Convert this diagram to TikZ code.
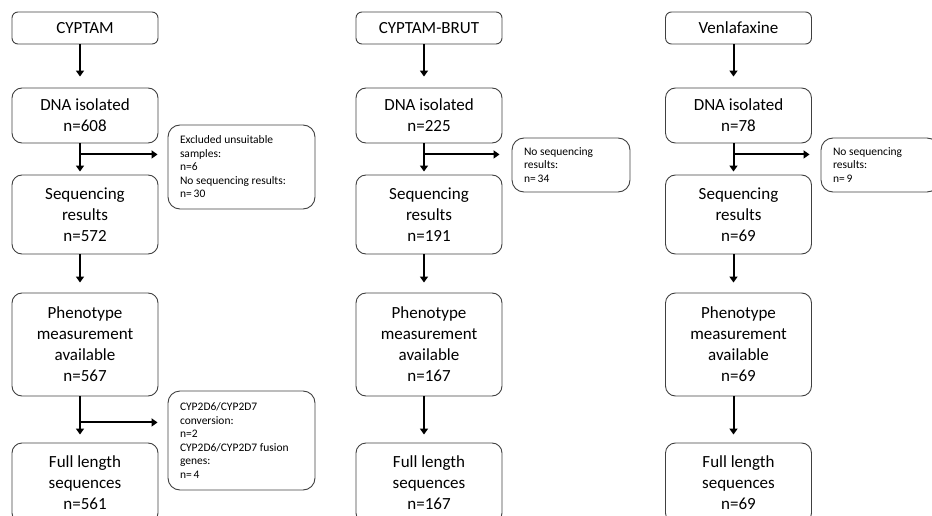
\documentclass[tikz,border=0pt]{standalone}
\usepackage{fontspec}
\setmainfont{Carlito}
\usetikzlibrary{arrows.meta,positioning,calc}

\tikzset{
  stagebox/.style={draw=black!75, line width=0.9pt, rounded corners=10pt, minimum width=146pt,
    align=center, inner sep=2pt, font=\fontsize{17}{21}\selectfont},
  headbox/.style={stagebox, rounded corners=6pt, minimum height=32pt},
  exclbox/.style={draw=black!75, line width=0.9pt, rounded corners=12pt, align=flush left,
    inner xsep=12pt, inner ysep=2pt, font=\fontsize{11.5}{13.5}\selectfont},
  flow/.style={line width=2pt, -{Triangle[length=6pt,width=8pt]}},
}

\begin{document}
\begin{tikzpicture}[x=1pt,y=-1pt]
  \path[use as bounding box, clip] (0,0) rectangle (932,516);

  % CYPTAM column
  \node[headbox] (cyptam) at (85,28) {CYPTAM};
  \node[stagebox, minimum height=55pt] (dnaA) at (85,115.5) {DNA isolated\\n=608};
  \node[stagebox, minimum height=79pt] (seqA) at (85,214.5) {Sequencing\\results\\n=572};
  \node[stagebox, minimum height=103pt] (phenoA) at (85,344.5) {Phenotype\\measurement\\available\\n=567};
  \node[stagebox, minimum height=80pt] (fullA) at (85,483) {Full length\\sequences\\n=561};
  \node[exclbox, text width=123pt, minimum height=84pt] (exclA1) at (241.5,167)
    {Excluded unsuitable\\samples:\\n=6\\No sequencing results:\\n=\,30};
  \node[exclbox, text width=123pt, minimum height=99pt] (exclA2) at (241.5,440.5)
    {CYP2D6/CYP2D7\\conversion:\\n=2\\CYP2D6/CYP2D7 fusion\\genes:\\n=\,4};

  % CYPTAM-BRUT column
  \node[headbox] (brut) at (429,28) {CYPTAM-BRUT};
  \node[stagebox, minimum height=55pt] (dnaB) at (429,115.5) {DNA isolated\\n=225};
  \node[stagebox, minimum height=79pt] (seqB) at (429,214.5) {Sequencing\\results\\n=191};
  \node[stagebox, minimum height=103pt] (phenoB) at (429,344.5) {Phenotype\\measurement\\available\\n=167};
  \node[stagebox, minimum height=80pt] (fullB) at (429,483) {Full length\\sequences\\n=167};
  \node[exclbox, text width=94pt, minimum height=54pt] (exclB) at (571,165)
    {No sequencing\\results:\\n=\,34};

  % Venlafaxine column
  \node[headbox] (venla) at (738.5,28) {Venlafaxine};
  \node[stagebox, minimum height=55pt] (dnaC) at (738.5,115.5) {DNA isolated\\n=78};
  \node[stagebox, minimum height=79pt] (seqC) at (738.5,214.5) {Sequencing\\results\\n=69};
  \node[stagebox, minimum height=103pt] (phenoC) at (738.5,344.5) {Phenotype\\measurement\\available\\n=69};
  \node[stagebox, minimum height=80pt] (fullC) at (738.5,483) {Full length\\sequences\\n=69};
  \node[exclbox, text width=94pt, minimum height=54pt] (exclC) at (880,165)
    {No sequencing\\results:\\n=\,9};

  % Main arrows
  \foreach \top/\bot/\gap in {cyptam/dnaA/11, dnaA/seqA/3, seqA/phenoA/10, phenoA/fullA/8,
      brut/dnaB/11, dnaB/seqB/3, seqB/phenoB/10, phenoB/fullB/8,
      venla/dnaC/11, dnaC/seqC/3, seqC/phenoC/10, phenoC/fullC/8}
    \draw[flow, shorten >=\gap pt] ([xshift=-5pt]\top.south) -- ([xshift=-5pt]\bot.north);

  % Exclusion branches
  \coordinate (brA1) at ($(dnaA.south)+(-5,11)$);
  \coordinate (brA2) at ($(phenoA.south)+(-5,26)$);
  \coordinate (brB) at ($(dnaB.south)+(-5,11)$);
  \coordinate (brC) at ($(dnaC.south)+(-5,11)$);
  \draw[flow, shorten >=10pt] (brA1) -- (brA1 -| exclA1.west);
  \draw[flow, shorten >=10pt] (brA2) -- (brA2 -| exclA2.west);
  \draw[flow, shorten >=12pt] (brB) -- (brB -| exclB.west);
  \draw[flow, shorten >=11pt] (brC) -- (brC -| exclC.west);
\end{tikzpicture}
\end{document}
